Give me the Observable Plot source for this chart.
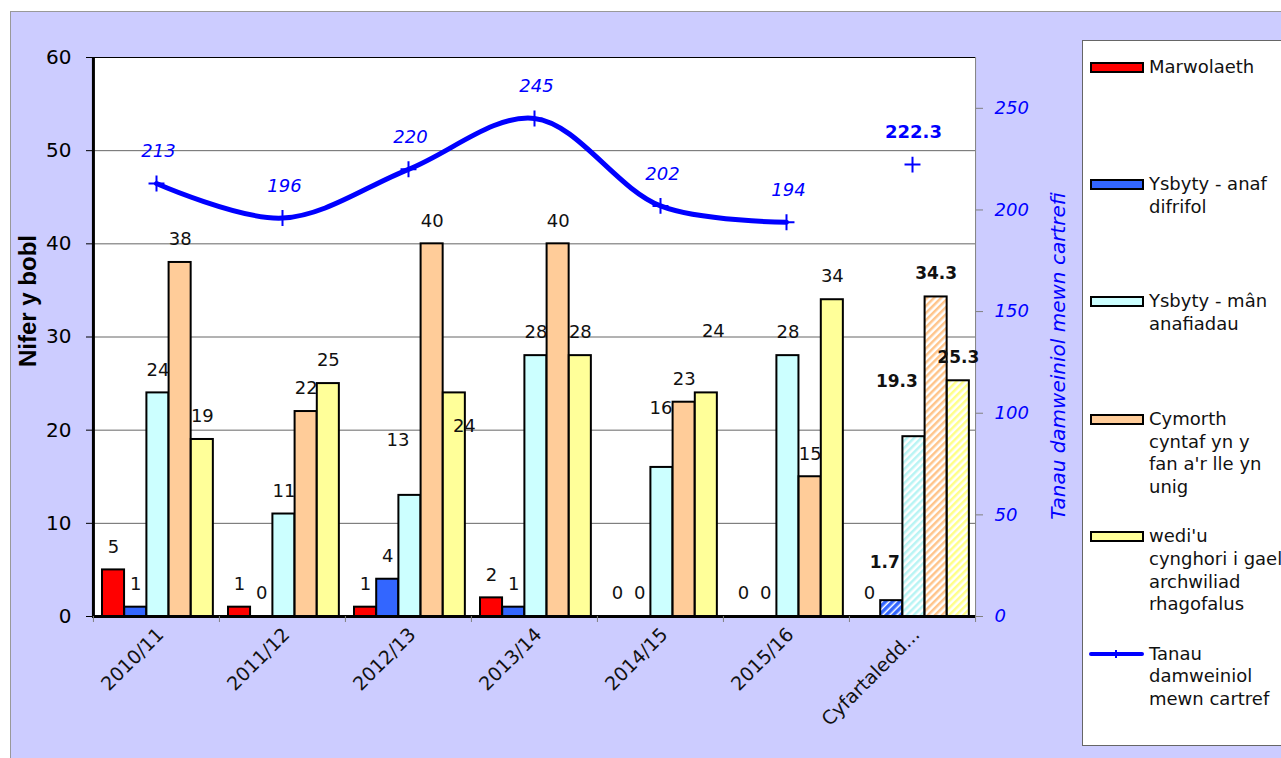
<!DOCTYPE html>
<html><head><meta charset="utf-8">
<script src="https://cdn.jsdelivr.net/npm/d3@7"></script>
<script src="https://cdn.jsdelivr.net/npm/@observablehq/plot@0.6"></script>
<style>
html,body{margin:0;padding:0;width:1281px;height:758px;overflow:hidden;background:#fff;font-family:"DejaVu Sans",sans-serif;}
#panel{position:absolute;left:10px;top:11px;width:1300px;height:800px;background:#CCCCFF;border-top:1px solid #999;border-left:1px solid #999;}
#chart{position:absolute;left:10px;top:11px;}
#legend{position:absolute;left:1082px;top:40px;width:230px;height:704px;background:#fff;border:1px solid #666;}
.sw{position:absolute;left:7px;width:50px;height:7px;border:2px solid #000;}
.ln{position:absolute;left:6px;width:55px;height:4px;background:#0000FF;border-radius:2px;}
.lnt{position:absolute;left:32px;width:2px;height:8px;background:#0000FF;}
.txt{position:absolute;left:66px;font-size:18px;line-height:22.7px;color:#111;white-space:nowrap;}
.atitle{position:absolute;white-space:nowrap;transform:translate(-50%,-50%) rotate(-90deg);}
#ltitle{left:28px;top:301px;font-family:"Liberation Sans",sans-serif;font-weight:bold;font-size:24px;color:#000;}
#rtitle{left:1058px;top:356px;font-family:"DejaVu Sans",sans-serif;font-style:italic;font-size:20px;color:#0000FF;}
</style></head>
<body>
<svg width="0" height="0" style="position:absolute">
<defs>
<pattern id="hatch-red" width="5" height="5" patternUnits="userSpaceOnUse" patternTransform="rotate(45)"><rect width="5" height="5" fill="#fff"/><rect width="2.5" height="5" fill="#FF0000"/></pattern>
<pattern id="hatch-blue" width="5" height="5" patternUnits="userSpaceOnUse" patternTransform="rotate(45)"><rect width="5" height="5" fill="#fff"/><rect width="3.5" height="5" fill="#3366FF"/></pattern>
<pattern id="hatch-cyan" width="5" height="5" patternUnits="userSpaceOnUse" patternTransform="rotate(45)"><rect width="5" height="5" fill="#fff"/><rect width="2.5" height="5" fill="#B8F4F4"/></pattern>
<pattern id="hatch-orange" width="5" height="5" patternUnits="userSpaceOnUse" patternTransform="rotate(45)"><rect width="5" height="5" fill="#fff"/><rect width="2.5" height="5" fill="#FFC48A"/></pattern>
<pattern id="hatch-yellow" width="5" height="5" patternUnits="userSpaceOnUse" patternTransform="rotate(45)"><rect width="5" height="5" fill="#fff"/><rect width="2.5" height="5" fill="#FFFF88"/></pattern>
</defs>
</svg>
<div id="panel"></div>
<div id="chart"></div>
<div id="legend"></div>
<div id="ltitle" class="atitle"></div>
<div id="rtitle" class="atitle"></div>
<script>
// ---- data ----
const categories = ["2010/11", "2011/12", "2012/13", "2013/14", "2014/15", "2015/16", "Cyfartaledd..."];
const marwolaeth = [5, 1, 1, 2, 0, 0, 0];
const anafDifrifol = [1, 0, 4, 1, 0, 0, 1.7];
const manAnafiadau = [24, 11, 13, 28, 16, 28, 19.3];
const cymorthCyntaf = [38, 22, 40, 40, 23, 15, 34.3];
const cynghori = [19, 25, 24, 28, 24, 34, 25.3];
const tanauCategories = ["2010/11", "2011/12", "2012/13", "2013/14", "2014/15", "2015/16"];
const tanau = [213, 196, 220, 245, 202, 194];
const tanauAverage = 222.3;
const leftTicks = [0, 10, 20, 30, 40, 50, 60];
const rightTicks = [0, 50, 100, 150, 200, 250];
const rightMax = 275;
const seriesNames = ["Marwolaeth", "Ysbyty - anaf difrifol", "Ysbyty - mân anafiadau",
  "Cymorth cyntaf yn y fan a'r lle yn unig", "wedi'u cynghori i gael archwiliad rhagofalus"];
const lineName = "Tanau damweiniol mewn cartref";
const legendLines = [["Marwolaeth"], ["Ysbyty - anaf", "difrifol"], ["Ysbyty - mân", "anafiadau"],
  ["Cymorth", "cyntaf yn y", "fan a'r lle yn", "unig"], ["wedi'u", "cynghori i gael", "archwiliad", "rhagofalus"],
  ["Tanau", "damweiniol", "mewn cartref"]];
const leftTitle = "Nifer y bobl";
const rightTitle = "Tanau damweiniol mewn cartrefi";

// ---- styling ----
const colors = ["#FF0000", "#3366FF", "#CCFFFF", "#FFCC99", "#FFFF99"];
const hatches = ["hatch-red", "hatch-blue", "hatch-cyan", "hatch-orange", "hatch-yellow"];
const lineColor = "#0000FF";
// manual label nudges (px) as in the original
const labelNudges = [
  {cat: "2012/13", s: 2, dx: -12, dy: -32},
  {cat: "2012/13", s: 4, dx: 10, dy: 56},
  {cat: "2014/15", s: 2, dx: -1, dy: -36},
  {cat: "2014/15", s: 4, dx: 7, dy: -39},
  {cat: "Cyfartaledd...", s: 1, dx: -7, dy: -15},
  {cat: "Cyfartaledd...", s: 2, dx: -17, dy: -32}
];

const seriesValues = [marwolaeth, anafDifrifol, manAnafiadau, cymorthCyntaf, cynghori];
const W = 1070, H = 747, mL = 82, mR = 105, mT = 46, mB = 142;
const bw = (W - mL - mR) / categories.length;
const padL = 9, barW = 22.2;
const k = 60 / rightMax;
const avgCat = categories[categories.length - 1];

const marks = [
  Plot.frame({fill: "white", stroke: null}),
  Plot.ruleY([10, 20, 30, 40, 50], {stroke: "#666", strokeWidth: 1}),
  Plot.ruleY([60], {stroke: "#000", strokeWidth: 1}),
  Plot.ruleX([avgCat], {dx: bw / 2, stroke: "#808080", strokeWidth: 1})
];

const labelMarks = [];
seriesValues.forEach((vals, j) => {
  const data = categories.map((c, i) => ({cat: c, v: vals[i]}));
  const insetLeft = padL + j * barW;
  const insetRight = bw - padL - (j + 1) * barW;
  marks.push(Plot.barY(data.filter(d => d.v > 0 && d.cat !== avgCat),
    {x: "cat", y: "v", fill: colors[j], stroke: "#000", strokeWidth: 2, insetLeft, insetRight}));
  marks.push(Plot.barY(data.filter(d => d.v > 0 && d.cat === avgCat),
    {x: "cat", y: "v", fill: `url(#${hatches[j]})`, stroke: "#000", strokeWidth: 2, insetLeft, insetRight}));
  const cdx = -bw / 2 + padL + (j + 0.5) * barW;
  const nudgeOf = d => labelNudges.find(n => n.cat === d.cat && n.s === j);
  const isBold = d => d.cat === avgCat && d.v !== 0;
  const plain = data.filter(d => !nudgeOf(d) && !isBold(d));
  const bold = data.filter(d => !nudgeOf(d) && isBold(d));
  labelMarks.push(Plot.text(plain, {x: "cat", y: "v", text: d => String(d.v), dx: cdx, dy: -23, fontSize: 18, fill: "#111"}));
  labelMarks.push(Plot.text(bold, {x: "cat", y: "v", text: d => String(d.v), dx: cdx, dy: -23, fontSize: 17, fontWeight: "bold", fill: "#111"}));
  data.filter(d => nudgeOf(d)).forEach(d => {
    const n = nudgeOf(d);
    labelMarks.push(Plot.text([d], {x: "cat", y: "v", text: d => String(d.v), dx: cdx + n.dx, dy: -23 + n.dy,
      fontSize: isBold(d) ? 17 : 18, fontWeight: isBold(d) ? "bold" : "normal", fill: "#111"}));
  });
});

const lineData = tanauCategories.map((c, i) => ({cat: c, v: tanau[i]}));
const avgData = [{cat: avgCat, v: tanauAverage}];

marks.push(
  Plot.ruleY([0], {stroke: "#000", strokeWidth: 3}),
  Plot.ruleX([categories[0]], {dx: -bw / 2, stroke: "#000", strokeWidth: 3}),
  ...labelMarks,
  Plot.line(lineData, {x: "cat", y: d => d.v * k, curve: "catmull-rom", stroke: lineColor, strokeWidth: 5}),
  Plot.dot(lineData, {x: "cat", y: d => d.v * k, symbol: "plus", r: 5.2, stroke: lineColor, strokeWidth: 2}),
  Plot.text(lineData, {x: "cat", y: d => d.v * k, text: d => String(d.v), dx: 2, dy: -32, fill: lineColor, fontStyle: "italic", fontSize: 18}),
  Plot.dot(avgData, {x: "cat", y: d => d.v * k, symbol: "plus", r: 5.2, stroke: lineColor, strokeWidth: 2}),
  Plot.text(avgData, {x: "cat", y: d => d.v * k, text: d => String(d.v), dx: 1, dy: -32, fill: lineColor, fontWeight: "bold", fontSize: 18}),
  Plot.axisY(leftTicks, {anchor: "left", tickSize: 6, tickPadding: 15, fontSize: 20, color: "#000", label: null}),
  Plot.axisY(rightTicks.map(v => v * k), {anchor: "right", tickSize: 7, tickPadding: 12, tickFormat: d => String(Math.round(d / k)),
    fontSize: 18, fontStyle: "italic", stroke: "#808080", fill: lineColor, label: null}),
  Plot.axisX({tickSize: 0, tickRotate: -45, tickPadding: 15, dx: 4, fontSize: 19, color: "#111", label: null}),
  Plot.axisX(categories, {tickSize: 6, fill: "none", stroke: "#808080", dx: -bw / 2, label: null}),
  Plot.axisX([avgCat], {tickSize: 6, fill: "none", stroke: "#808080", dx: bw / 2, label: null})
);

const chart = Plot.plot({
  width: W, height: H,
  marginLeft: mL, marginRight: mR, marginTop: mT, marginBottom: mB,
  style: {background: "transparent", fontFamily: "DejaVu Sans", overflow: "visible"},
  x: {type: "band", domain: categories, padding: 0},
  y: {domain: [0, 60]},
  marks
});
document.getElementById("chart").appendChild(chart);
document.getElementById("ltitle").textContent = leftTitle;
document.getElementById("rtitle").textContent = rightTitle;

// ---- legend ----
const legend = document.getElementById("legend");
const step = 117.4, first = 26;
legendLines.forEach((lines, i) => {
  const cy = first + i * step;
  if (i < seriesNames.length) {
    const sw = document.createElement("div");
    sw.className = "sw";
    sw.style.top = (cy - 5.5) + "px";
    sw.style.background = colors[i];
    legend.appendChild(sw);
  } else {
    const ln = document.createElement("div");
    ln.className = "ln"; ln.style.top = (cy - 2) + "px";
    legend.appendChild(ln);
    const t = document.createElement("div");
    t.className = "lnt"; t.style.top = (cy - 4) + "px";
    legend.appendChild(t);
  }
  const tx = document.createElement("div");
  tx.className = "txt";
  tx.style.top = (cy - 11.35) + "px";
  tx.innerHTML = lines.map(l => l.replace(/&/g, "&amp;")).join("<br>");
  legend.appendChild(tx);
});
</script>
</body></html>
